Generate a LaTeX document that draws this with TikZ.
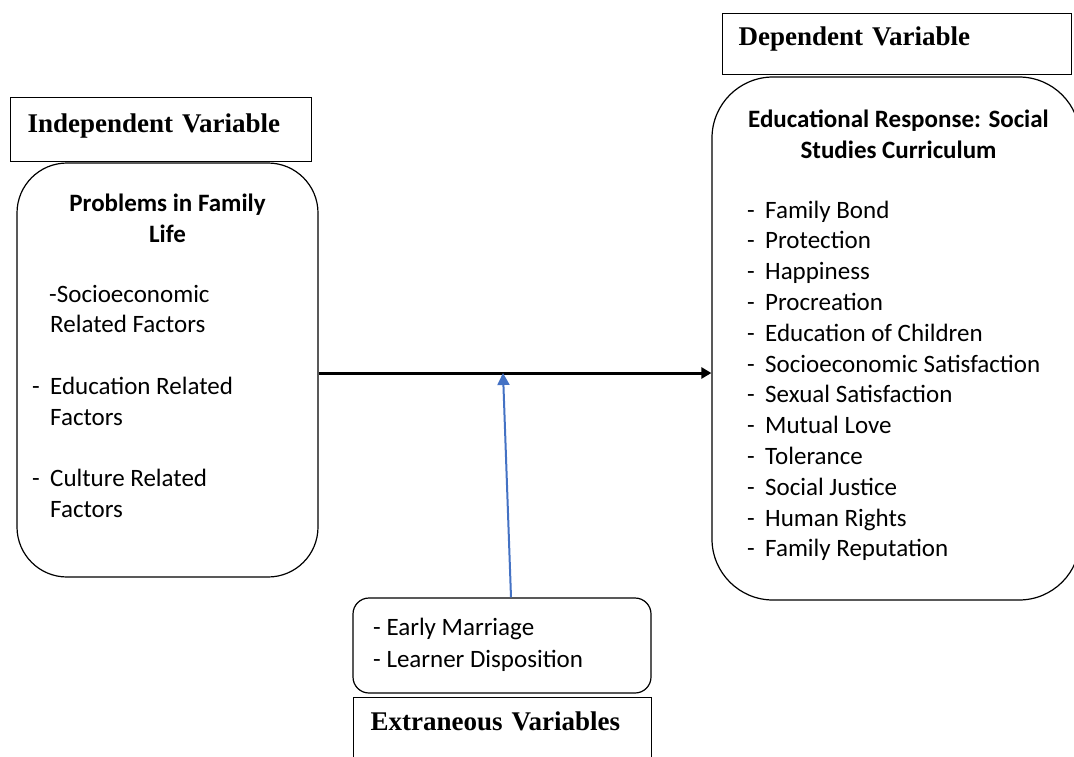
\documentclass[tikz,border=0pt]{standalone}
\usepackage{fontspec}
\setmainfont{Liberation Serif}
\newfontfamily\bodyfont{Carlito}
\usetikzlibrary{arrows.meta}
\definecolor{linkblue}{HTML}{4472C4}
\newcommand{\itemdash}{\llap{\makebox[18pt][l]{-}}}

\begin{document}
\begin{tikzpicture}[
  x=1pt, y=-1pt,
  hdrbox/.style={draw, line width=1.3pt, inner ysep=0pt, align=left, anchor=north west,
    font=\fontsize{27}{32}\selectfont\bfseries},
  roundbox/.style={draw, line width=1.2pt, inner sep=0pt},
  boxtext/.style={font=\fontsize{25}{30.8}\selectfont\bodyfont, align=left, inner sep=0pt},
  titletext/.style={font=\fontsize{25}{30.8}\selectfont\bodyfont\bfseries, align=center, inner sep=0pt}
]
\useasboundingbox (0,0) rectangle (1074,756);

% Variable headings
\node[hdrbox, text width=267pt, inner xsep=17pt, text height=35pt, text depth=29pt] (indhead) at (10,97) {Independent Variable};
\node[hdrbox, text width=317pt, inner xsep=16pt, text height=32pt, text depth=29pt] (dephead) at (722,13) {Dependent Variable};
\node[hdrbox, text width=264pt, inner xsep=17pt, text height=33pt, text depth=40pt] (exthead) at (353,697) {Extraneous Variables};

% Rounded boxes
\node[roundbox, rounded corners=50pt, minimum width=301pt, minimum height=414pt] (probbox) at (167.5,370) {};
\node[roundbox, rounded corners=61pt, minimum width=368pt, minimum height=523pt] (respbox) at (896,338.5) {};
\node[roundbox, rounded corners=16pt, minimum width=298pt, minimum height=95pt] (extbox) at (502,645.5) {};

% Box contents (base = last line)
\node[titletext, anchor=base] (probtitle) at (167.5,242) {Problems in Family\\Life};
\node[boxtext, anchor=base west] (problist) at (50,517.6) {\hspace{-1pt}-Socioeconomic\\Related Factors\\[30.8pt]
  \itemdash Education Related\\Factors\\[30.8pt]
  \itemdash Culture Related\\Factors};
\node[titletext, anchor=base] (resptitle) at (898.5,158) {Educational Response: Social\\Studies Curriculum};
\node[boxtext, anchor=base west] (resplist) at (765,556.8) {\itemdash Family Bond\\\itemdash Protection\\
  \itemdash Happiness\\\itemdash Procreation\\\itemdash Education of Children\\
  \itemdash Socioeconomic Satisfaction\\\itemdash Sexual Satisfaction\\\itemdash Mutual Love\\
  \itemdash Tolerance\\\itemdash Social Justice\\\itemdash Human Rights\\\itemdash Family Reputation};
\node[boxtext, font=\fontsize{25}{32}\selectfont\bodyfont, anchor=base west] (extlist) at (373,667) {- Early Marriage\\- Learner Disposition};

% Connectors
\coordinate (mid) at (503,373);
\draw[line width=3pt, -{Triangle[length=10pt, width=11pt]}] (probbox.east |- mid) -- (respbox.west |- mid);
\draw[linkblue, line width=2pt, -{Triangle[length=12pt, width=12pt]}] (extbox.north -| 511,0) -- (mid);

\end{tikzpicture}
\end{document}
